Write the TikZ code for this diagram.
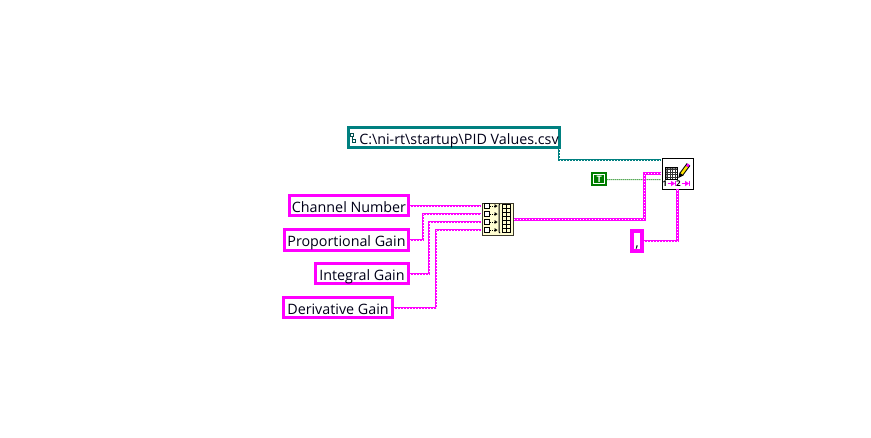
\documentclass[tikz,border=0pt]{standalone}
\usepackage{fontspec}
\setmainfont{Open Sans}
\definecolor{pinkw}{RGB}{255,0,255}
\definecolor{pathw}{RGB}{0,128,128}
\definecolor{boolw}{RGB}{0,125,0}
\definecolor{txt}{RGB}{0,0,25}
\tikzset{
 ctrl/.style={draw=pinkw,line width=3pt,fill=white,inner sep=0pt,anchor=north west,align=center,font=\fontsize{14.3}{16}\selectfont,text=txt,text height=13pt,text depth=0pt},
 strw/.style={draw=pinkw,line width=3pt,postaction={draw=white,line width=.9pt,dash pattern=on 1pt off 2pt}},
 thinstr/.style={draw=pinkw,line width=2.2pt,postaction={draw=white,line width=.7pt,dash pattern=on .9pt off 2.1pt}},
 pathwire/.style={draw=pathw,line width=2.2pt,postaction={draw=white,line width=.7pt,dash pattern=on .9pt off 2.1pt}},
 boolwire/.style={draw=boolw,line width=1pt,dash pattern=on 1pt off 1pt},
 icon/.style={draw=black,line width=1pt,inner sep=0pt,anchor=north west},
 glyph/.style={line width=.7pt},
 numlab/.style={inner sep=0pt,font=\bfseries\fontsize{8}{8}\selectfont,text=black}
}
\begin{document}
\begin{tikzpicture}[x=1pt,y=-1pt]
\useasboundingbox (0,0) rectangle (871,437);
\fill[white] (0,0) rectangle (871,437);
% junction coordinates
\coordinate (ba1) at (481,206);\coordinate (ba2) at (481,214);\coordinate (ba3) at (481,222);\coordinate (ba4) at (481,230);
\coordinate (wr1) at (661,160);\coordinate (wr2) at (661,173.5);\coordinate (wr3) at (661,179.5);\coordinate (wr4) at (677.5,189);
\coordinate (pout) at (559,149);
% controls
\node[ctrl,draw=pathw,minimum width=211pt,minimum height=20pt] (path) at (347,126) {\hspace{10pt}C:\textbackslash ni-rt\textbackslash startup\textbackslash PID Values.csv};
\node[ctrl,minimum width=119pt,minimum height=20pt] (ch) at (288,194) {Channel Number};
\node[ctrl,minimum width=124pt,minimum height=21pt] (pg) at (283,228) {Proportional Gain};
\node[ctrl,minimum width=93pt,minimum height=20pt] (ig) at (314,262) {Integral Gain};
\node[ctrl,minimum width=109pt,minimum height=20pt] (dg) at (282,296) {Derivative Gain};
\node[ctrl,line width=4pt,minimum width=10pt,minimum height=20pt,text height=12pt] (comma) at (630,229) {,};
% write icon
\node[icon,fill=white,minimum width=31pt,minimum height=31pt] (wr) at (661.5,157.5) {};
% build array icon
\node[icon,draw=black!75!olive,line width=1.2pt,fill=yellow!18,minimum width=31pt,minimum height=32pt] (ba) at (481.5,202.5) {};
% T constant
\node[draw=none,fill=boolw,inner sep=0pt,anchor=north west,minimum width=16pt,minimum height=14pt] (tc) at (591,172) {};
% wires
\draw[pathwire] (pout) |- (wr1);
\draw[boolwire] (tc.east) ++(0,.5) -- (wr3);
\draw[thinstr] (ch.east) ++(0,.5) -- (ba1);
\draw[thinstr] (pg.east) -| (423,214) -- (ba2);
\draw[thinstr] (ig.east) ++(0,.5) -| (429,222) -- (ba3);
\draw[thinstr] (dg.east) ++(0,.5) -| (436,230) -- (ba4);
\draw[strw] (ba.east) -| (644.5,173.5) -- (wr2);
\draw[thinstr] (comma.east) -| (wr4);
% path glyph
\draw[pathw!60!black,glyph] (350.5,133.5) rectangle (353.5,136.5) (352,136.5) -- (352,139.5) (352,139.5) rectangle (355.5,142.5);
% write icon content
\fill[black!45] (665,167) rectangle (677,170);
\fill[black!45] (665,167) rectangle (668,179);
\draw[black!80,line width=.6pt,step=2.5pt,shift={(665,167)}] (0,0) grid (12,12);
\draw[black,line width=.6pt] (665,167) rectangle (677,179);
\draw[black,line width=4.4pt] (681.5,174) -- (688.5,164.5);
\draw[yellow!85!orange,line width=2.4pt] (681.5,174) -- (687,166.5);
\draw[pinkw,line width=2.4pt] (687,166.5) -- (688.7,164.2);
\fill[black] (678.3,178) -- (679.5,172.5) -- (683.5,175.5) -- cycle;
\node[numlab] (n1) at (664.8,183.5) {1};
\node[numlab] (n2) at (678.5,183.5) {2};
\draw[pinkw,line width=1pt] (667.5,183.5) -- (674,183.5) (681.5,183.5) -- (688,183.5);
\fill[pinkw] (671,180.8) -- (675,183.5) -- (671,186.2) -- cycle (685,180.8) -- (689,183.5) -- (685,186.2) -- cycle;
\draw[pinkw,line width=1pt] (675.5,180.8) -- (675.5,186.2) (689.5,180.8) -- (689.5,186.2);
% build array icon content
\foreach \r in {206,214,222,230}{
  \draw[black,fill=white,line width=.8pt] (484.5,\r-2.5) rectangle (489.5,\r+2.5);
  \draw[black,line width=.8pt,dash pattern=on 1pt off 1pt] (490,\r) -- (495,\r);
  \fill[black] (494.5,\r-2) -- (497.5,\r) -- (494.5,\r+2) -- cycle;
}
\draw[black,line width=1pt] (500,204) -- (499,205) -- (499,232) -- (500,233);
\draw[black,line width=.8pt] (502,204) rectangle (510,232.5);
\draw[black,line width=.8pt] (506,204) -- (506,232.5);
\foreach \r in {208,212,216,220,224,228}{\draw[black,line width=.8pt] (502,\r) -- (510,\r);}
% T constant content
\draw[white,line width=1pt] (593.5,174.5) rectangle (604.5,183.5);
\node[inner sep=0pt,text=white,font=\bfseries\fontsize{9}{9}\selectfont] (tl) at (tc.center) {T};
\end{tikzpicture}
\end{document}
